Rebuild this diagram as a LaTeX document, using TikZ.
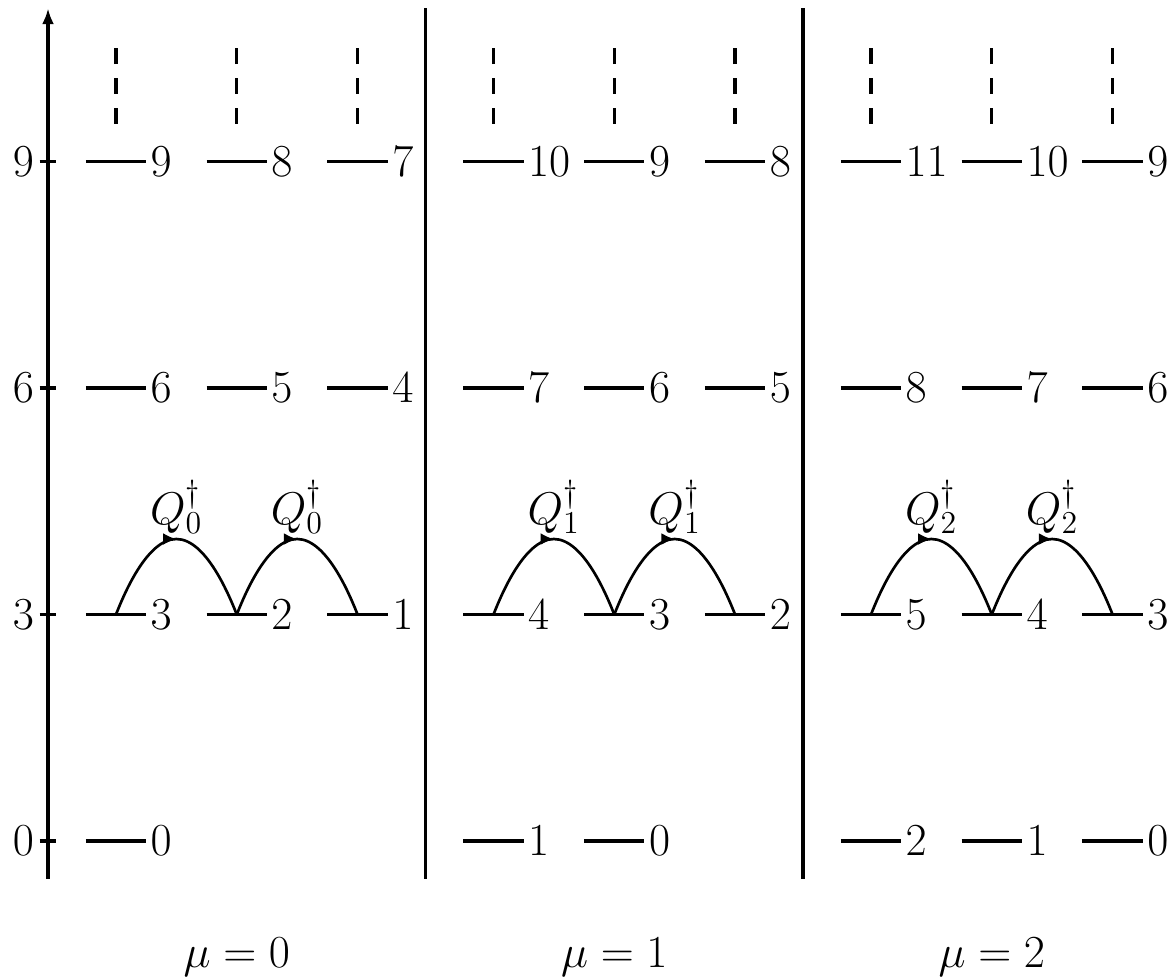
\documentclass[tikz,border=0pt]{standalone}
\usetikzlibrary{arrows.meta,decorations.markings}
\begin{document}
\begin{tikzpicture}[x=1cm,y=1cm,
  font=\fontsize{17.28}{20}\selectfont,
  levelline/.style={line width=1.25pt},
  vline/.style={line width=1.4pt},
  lbl/.style={anchor=west,inner sep=1.5pt},
  dots/.style={line width=1.25pt,dash pattern=on 0.21cm off 0.185cm},
  hop/.style={line width=1pt,postaction={decorate},
    decoration={markings,mark=at position 0.5 with {\arrow{Latex[length=5pt,width=4.5pt]}}}},
  qlbl/.style={anchor=south,inner sep=2pt}]
\useasboundingbox (-0.636,-1.828) rectangle (14.94,11.139);
% axis
\coordinate (ab) at (0,-0.5);
\coordinate (at) at (0,11.03);
\draw[vline,-{Latex[length=6pt,width=4.5pt]}] (ab) -- (at);
\foreach \v in {0,3,6,9}{
  \coordinate (tl\v) at (-0.11,\v);
  \coordinate (tr\v) at (0.11,\v);
  \draw[vline] (tl\v) -- (tr\v);
  \node[anchor=east,inner sep=2pt] (tk\v) at (tl\v) {$\v$};
}
% separators
\foreach \s in {5,10}{
  \coordinate (sb\s) at (\s,-0.5);
  \coordinate (st\s) at (\s,11.03);
  \draw[vline] (sb\s) -- (st\s);
}
% levels: column m, position p (0,1,2), level L
\foreach \m in {0,1,2}{
  \foreach \p in {0,1,2}{
    \pgfmathsetmacro{\xs}{5*\m+0.5+1.6*\p}
    \pgfmathsetmacro{\xe}{\xs+0.8}
    \pgfmathsetmacro{\xc}{\xs+0.4}
    \foreach \L/\n in {3/1,6/2,9/3}{
      \pgfmathtruncatemacro{\num}{3*\n-\p+\m}
      \coordinate (s\m\p\L) at (\xs,\L);
      \coordinate (e\m\p\L) at (\xe,\L);
      \coordinate (c\m\p\L) at (\xc,\L);
      \draw[levelline] (s\m\p\L) -- (e\m\p\L);
      \node[lbl] (n\m\p\L) at (e\m\p\L) {$\num$};
    }
    \coordinate (d\m\p a) at (\xc,9.5);
    \coordinate (d\m\p b) at (\xc,10.5);
    \draw[dots] (d\m\p a) -- (d\m\p b);
    \pgfmathtruncatemacro{\show}{\p<=\m ? 1 : 0}
    \ifnum\show=1
      \pgfmathtruncatemacro{\num}{\m-\p}
      \coordinate (s\m\p0) at (\xs,0);
      \coordinate (e\m\p0) at (\xe,0);
      \draw[levelline] (s\m\p0) -- (e\m\p0);
      \node[lbl] (n\m\p0) at (e\m\p0) {$\num$};
    \fi
  }
  % hops
  \pgfmathsetmacro{\bx}{5*\m+1.7}
  \pgfmathsetmacro{\by}{5*\m+3.3}
  \coordinate (b\m a) at (\bx,4);
  \coordinate (b\m b) at (\by,4);
  \draw[hop] (c\m03) parabola bend (b\m a) (c\m13);
  \draw[hop] (c\m13) parabola bend (b\m b) (c\m23);
  \node[qlbl] (q\m a) at (b\m a) {$Q_{\m}^{\dagger}$};
  \node[qlbl] (q\m b) at (b\m b) {$Q_{\m}^{\dagger}$};
  \node[anchor=base] (lab\m) at (5*\m+2.5,-1.67) {$\mu=\m$};
}
\end{tikzpicture}
\end{document}
